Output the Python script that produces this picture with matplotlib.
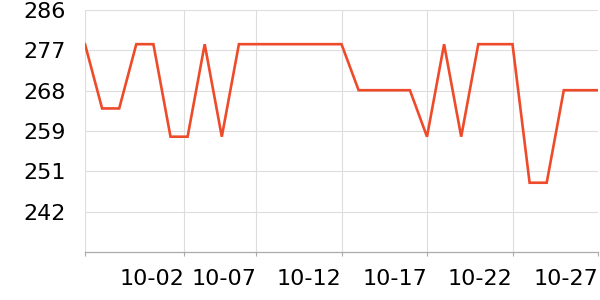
import numpy as np
import pandas as pd
import matplotlib
matplotlib.use("Agg")
import matplotlib.pyplot as plt

# daily values, 09-27 .. 10-27
dates = pd.date_range("2023-09-27", "2023-10-27", freq="D")
values = [278.5, 264.4, 264.4, 278.5, 278.5, 258.2, 258.2, 278.5, 258.2, 278.5,
          278.5, 278.5, 278.5, 278.5, 278.5, 278.5, 268.4, 268.4, 268.4, 268.4,
          258.2, 278.5, 258.2, 278.5, 278.5, 278.5, 248.1, 248.1, 268.4, 268.4,
          268.4]

tick_dates = pd.to_datetime(["2023-09-27 00:00", "2023-10-02 19:00", "2023-10-07 00:00",
                             "2023-10-12 00:00", "2023-10-17 00:00", "2023-10-22 00:00",
                             "2023-10-27 00:00"])
tick_labels = ["", "10-02", "10-07", "10-12", "10-17", "10-22", "10-27"]

y_min, y_max = 232.9, 286.0

fig = plt.figure(figsize=(6, 3), dpi=100)
ax = fig.add_axes([85 / 600, 1 - 252 / 300, 513 / 600, 242 / 300])

ax.plot(dates, values, color="#ee4b2b", lw=1.9, solid_joinstyle="miter")

ax.set_xlim(dates[0], dates[-1])
ax.set_ylim(y_min, y_max)

yt = np.linspace(y_min, y_max, 7)[1:]
ax.set_yticks(yt)
ax.set_yticklabels([f"{v:.0f}" for v in yt])
ax.set_xticks(tick_dates)
ax.set_xticklabels(tick_labels, ha="right")

ax.grid(True, color="#dddddd", lw=0.8)
ax.set_axisbelow(True)
for s in ["top", "right", "left"]:
    ax.spines[s].set_visible(False)
ax.spines["bottom"].set_color("#aaaaaa")
ax.spines["bottom"].set_linewidth(0.9)

ax.tick_params(axis="y", length=0, pad=14, labelsize=16)
ax.tick_params(axis="x", length=3, color="#aaaaaa", pad=9, labelsize=16)

fig.savefig("out.png", dpi=100)
